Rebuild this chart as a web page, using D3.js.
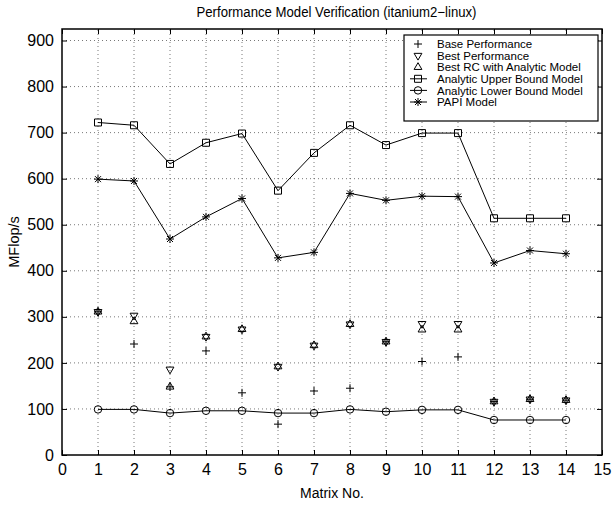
<!DOCTYPE html>
<html><head><meta charset="utf-8">
<script src="https://cdn.jsdelivr.net/npm/d3@7"></script>
<style>
body{margin:0;background:#fff;}
svg{display:block;font-family:"Liberation Sans",Arial,Helvetica,sans-serif;}
</style></head><body>
<svg id="chart" width="613" height="505"></svg>
<script>
// ---- data ----
const matrices = [1,2,3,4,5,6,7,8,9,10,11,12,13,14];
const basePerf   = [311,241,148,226,135,67,139,145,246,203,213,116,121,119];
const bestPerf   = [311,303,186,257,273,192,238,284,246,285,285,116,121,119];
const bestRC     = [311,290,148,257,273,192,238,284,246,272,272,116,121,119];
const upperBound = [722,716,632,678,698,574,656,716,673,699,699,514,514,514];
const lowerBound = [99,99,91,96,96,91,91,99,94,98,98,76,76,76];
const papiModel  = [599,595,469,517,557,428,440,568,553,562,561,417,444,437];
const xTicks = [0,1,2,3,4,5,6,7,8,9,10,11,12,13,14,15];
const yTicks = [0,100,200,300,400,500,600,700,800,900];
const legendLabels = ["Base Performance","Best Performance","Best RC with Analytic Model",
  "Analytic Upper Bound Model","Analytic Lower Bound Model","PAPI Model"];

// ---- layout ----
const L=62, R=602, T=29, B=455;
const svg = d3.select("#chart");
const x = d3.scaleLinear().domain([0,15]).range([L,R]);
const y = d3.scaleLinear().domain([0,925]).range([B,T]);

// grid
const grid = svg.append("g").attr("stroke","#555").attr("stroke-width",0.8).attr("stroke-dasharray","1,3");
xTicks.slice(1,-1).forEach(t=>grid.append("line").attr("x1",x(t)).attr("x2",x(t)).attr("y1",B).attr("y2",T));
yTicks.slice(1).forEach(t=>grid.append("line").attr("x1",L).attr("x2",R).attr("y1",y(t)).attr("y2",y(t)));

// axes
const fs = 16;
const axB = svg.append("g").attr("transform",`translate(0,${B})`)
  .call(d3.axisBottom(x).tickValues(xTicks).tickSizeInner(-5).tickSizeOuter(0).tickPadding(9));
const axT = svg.append("g").attr("transform",`translate(0,${T})`)
  .call(d3.axisTop(x).tickValues(xTicks).tickSizeInner(-5).tickSizeOuter(0).tickFormat(""));
const axL = svg.append("g").attr("transform",`translate(${L},0)`)
  .call(d3.axisLeft(y).tickValues(yTicks).tickSizeInner(-5).tickSizeOuter(0).tickPadding(8));
const axR = svg.append("g").attr("transform",`translate(${R},0)`)
  .call(d3.axisRight(y).tickValues(yTicks).tickSizeInner(-5).tickSizeOuter(0).tickFormat(""));
[axB,axT,axL,axR].forEach(a=>{
  a.select(".domain").remove();
  a.selectAll("line").attr("stroke","#000");
  a.selectAll("text").attr("font-size",fs).attr("font-family","Liberation Sans, Arial, sans-serif").attr("fill","#000");
});
svg.append("rect").attr("x",L).attr("y",T).attr("width",R-L).attr("height",B-T)
  .attr("fill","none").attr("stroke","#000").attr("stroke-width",1.5);

// marker paths
const r=4.5, h=3.9;
const sym = {
  plus: `M-4,0H4M0,-4V4`,
  down: `M${-h},${-r/2}L${h},${-r/2}L0,${r}Z`,
  up: `M${-h},${r/2}L${h},${r/2}L0,${-r}Z`,
  square: `M-3.5,-3.5H3.5V3.5H-3.5Z`,
  circle: d3.symbol(d3.symbolCircle, 44)(),
  star: `M-4,0H4M0,-4V4M-3,-3L3,3M-3,3L3,-3`
};

function drawLine(vals){
  svg.append("path").datum(vals)
    .attr("d", d3.line().x((d,i)=>x(matrices[i])).y(d=>y(d)))
    .attr("fill","none").attr("stroke","#000").attr("stroke-width",1);
}
function drawMarks(vals, s){
  svg.append("g").selectAll("path").data(vals).join("path")
    .attr("transform",(d,i)=>`translate(${x(matrices[i])},${y(d)})`)
    .attr("d",sym[s]).attr("fill","none").attr("stroke","#000").attr("stroke-width",1);
}
drawLine(upperBound); drawLine(lowerBound); drawLine(papiModel);
drawMarks(basePerf,"plus");
drawMarks(bestPerf,"down");
drawMarks(bestRC,"up");
drawMarks(upperBound,"square");
drawMarks(lowerBound,"circle");
drawMarks(papiModel,"star");

// legend
const lg = svg.append("g");
lg.append("rect").attr("x",404).attr("y",35).attr("width",194).attr("height",86)
  .attr("fill","#fff").attr("stroke","#000").attr("stroke-width",1.2);
const legSyms = ["plus","down","up","square","circle","star"];
legendLabels.forEach((lab,i)=>{
  const yy = 44 + i*11.6;
  if(i>=3) lg.append("line").attr("x1",410).attr("x2",427).attr("y1",yy).attr("y2",yy).attr("stroke","#000");
  lg.append("path").attr("transform",`translate(418,${yy})`).attr("d",sym[legSyms[i]])
    .attr("fill","none").attr("stroke","#000");
  lg.append("text").attr("x",437).attr("y",yy).attr("dy","0.36em").attr("font-size",11.5).text(lab);
});

// title & labels
svg.append("text").attr("x",336.5).attr("y",17).attr("text-anchor","middle").attr("font-size",14)
  .attr("textLength",280).attr("lengthAdjust","spacingAndGlyphs")
  .text("Performance Model Verification (itanium2\u2212linux)");
svg.append("text").attr("x",332).attr("y",498).attr("text-anchor","middle").attr("font-size",14)
  .text("Matrix No.");
svg.append("text").attr("transform","translate(19,242) rotate(-90)").attr("text-anchor","middle").attr("font-size",14.5)
  .text("MFlop/s");
</script>
</body></html>
